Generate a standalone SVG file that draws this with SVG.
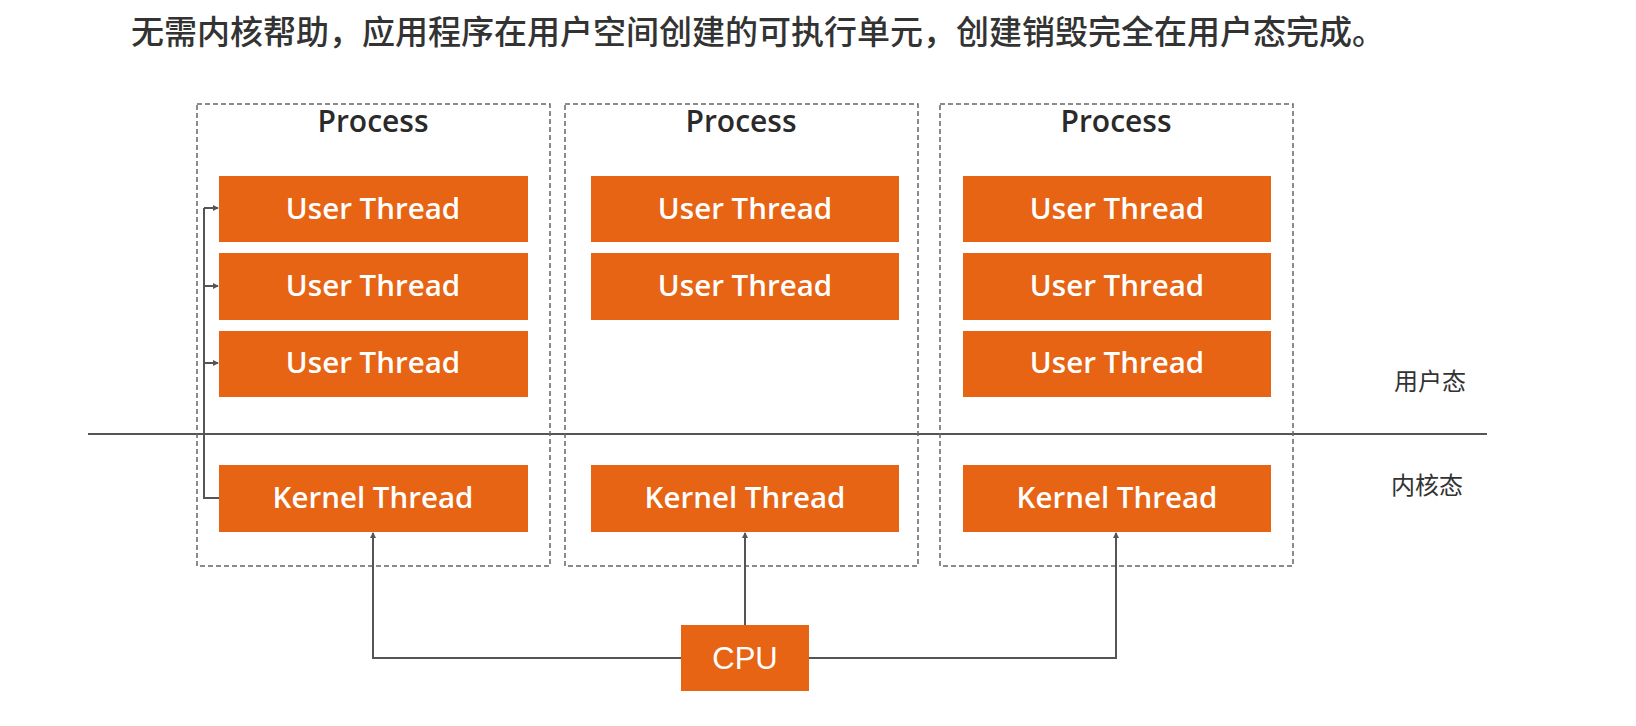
<svg xmlns="http://www.w3.org/2000/svg" width="1636" height="726" viewBox="0 0 1636 726">
<style>
.proc{fill:none;stroke:#666;stroke-width:1.5;stroke-dasharray:5 3}
.thr{fill:#E66414}
.tt{font-family:"Open Sans","Noto Sans",sans-serif;font-weight:600;font-size:29.5px;fill:#fff;text-anchor:middle}
.pt{font-family:"Open Sans","Noto Sans",sans-serif;font-weight:600;font-size:30px;fill:#2a2a2a;text-anchor:middle}
.cn{font-family:"Noto Sans CJK SC",sans-serif;font-size:24px;fill:#333;text-anchor:middle}
.ln{fill:none;stroke:#555;stroke-width:2}
</style>
<defs>
<marker id="ah" markerWidth="6" markerHeight="6" refX="5" refY="3" orient="auto" markerUnits="userSpaceOnUse">
<path d="M0,0 L6,3 L0,6 Z" fill="#555"/>
</marker>
</defs>
<text x="131" y="44" font-family="'Noto Sans CJK SC',sans-serif" font-size="33" fill="#333" font-weight="500">无需内核帮助，应用程序在用户空间创建的可执行单元，创建销毁完全在用户态完成。</text>

<line x1="88" y1="434" x2="1487" y2="434" stroke="#555" stroke-width="2"/>
<text class="cn" x="1430" y="390">用户态</text>
<text class="cn" x="1427" y="494">内核态</text>

<g id="process1">
<rect class="proc" x="197" y="104" width="353" height="462"/>
<text class="pt" x="373" y="132">Process</text>
<rect class="thr" x="219" y="176" width="309" height="66"/><text class="tt" x="373" y="219">User Thread</text>
<rect class="thr" x="219" y="253" width="309" height="67"/><text class="tt" x="373" y="296">User Thread</text>
<rect class="thr" x="219" y="331" width="309" height="66"/><text class="tt" x="373" y="373">User Thread</text>
<rect class="thr" x="219" y="465" width="309" height="67"/><text class="tt" x="373" y="508">Kernel Thread</text>
</g>
<g id="process2">
<rect class="proc" x="565" y="104" width="353" height="462"/>
<text class="pt" x="741" y="132">Process</text>
<rect class="thr" x="591" y="176" width="308" height="66"/><text class="tt" x="745" y="219">User Thread</text>
<rect class="thr" x="591" y="253" width="308" height="67"/><text class="tt" x="745" y="296">User Thread</text>
<rect class="thr" x="591" y="465" width="308" height="67"/><text class="tt" x="745" y="508">Kernel Thread</text>
</g>
<g id="process3">
<rect class="proc" x="940" y="104" width="353" height="462"/>
<text class="pt" x="1116" y="132">Process</text>
<rect class="thr" x="963" y="176" width="308" height="66"/><text class="tt" x="1117" y="219">User Thread</text>
<rect class="thr" x="963" y="253" width="308" height="67"/><text class="tt" x="1117" y="296">User Thread</text>
<rect class="thr" x="963" y="331" width="308" height="66"/><text class="tt" x="1117" y="373">User Thread</text>
<rect class="thr" x="963" y="465" width="308" height="67"/><text class="tt" x="1117" y="508">Kernel Thread</text>
</g>
<g id="cpu">
<rect class="thr" x="681" y="625" width="128" height="66"/>
<text x="745" y="669" font-family="'Liberation Sans',Arial,sans-serif" font-size="31" fill="#fff" text-anchor="middle">CPU</text>
</g>
<g id="connectors">
<path class="ln" d="M219,498 H204 V208"/>
<path class="ln" d="M204,208 H218" marker-end="url(#ah)"/>
<path class="ln" d="M204,286 H218" marker-end="url(#ah)"/>
<path class="ln" d="M204,363 H218" marker-end="url(#ah)"/>
<path class="ln" d="M681,658 H373 V533" marker-end="url(#ah)"/>
<path class="ln" d="M745,625 V533" marker-end="url(#ah)"/>
<path class="ln" d="M809,658 H1116 V533" marker-end="url(#ah)"/>
</g>
</svg>
